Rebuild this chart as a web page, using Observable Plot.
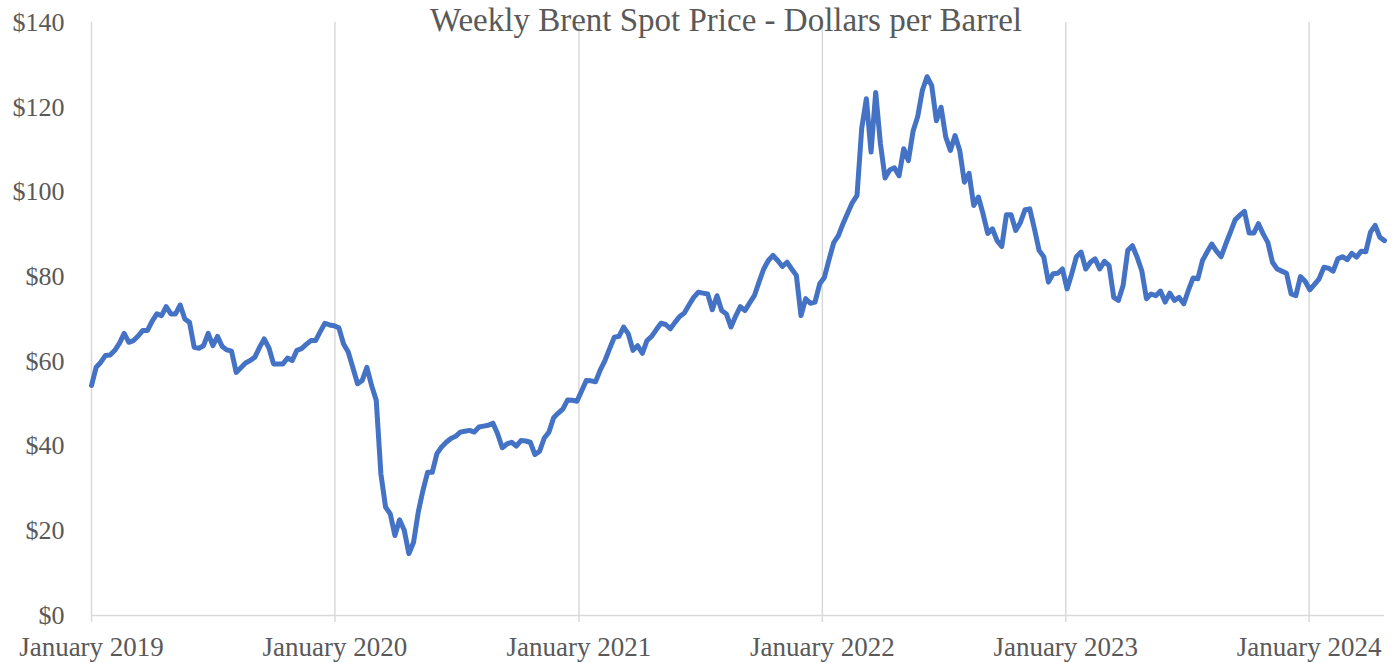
<!DOCTYPE html>
<html><head><meta charset="utf-8">
<script src="https://cdn.jsdelivr.net/npm/d3@7"></script>
<script src="https://cdn.jsdelivr.net/npm/@observablehq/plot@0.6"></script>
<style>html,body{margin:0;padding:0;background:#fff;} #chart{width:1396px;height:663px;}</style>
</head><body><div id="chart"></div>
<script>
const title = "Weekly Brent Spot Price - Dollars per Barrel";

// Week-ending dates (Fridays), as month-day per year
const weeks2019 = ["01-04","01-11","01-18","01-25","02-01","02-08","02-15","02-22","03-01","03-08","03-15","03-22","03-29","04-05","04-12","04-19","04-26","05-03","05-10","05-17","05-24","05-31","06-07","06-14","06-21","06-28","07-05","07-12","07-19","07-26","08-02","08-09","08-16","08-23","08-30","09-06","09-13","09-20","09-27","10-04","10-11","10-18","10-25","11-01","11-08","11-15","11-22","11-29","12-06","12-13","12-20","12-27"];
const weeks2020 = ["01-03","01-10","01-17","01-24","01-31","02-07","02-14","02-21","02-28","03-06","03-13","03-20","03-27","04-03","04-10","04-17","04-24","05-01","05-08","05-15","05-22","05-29","06-05","06-12","06-19","06-26","07-03","07-10","07-17","07-24","07-31","08-07","08-14","08-21","08-28","09-04","09-11","09-18","09-25","10-02","10-09","10-16","10-23","10-30","11-06","11-13","11-20","11-27","12-04","12-11","12-18","12-25"];
const weeks2021 = ["01-01","01-08","01-15","01-22","01-29","02-05","02-12","02-19","02-26","03-05","03-12","03-19","03-26","04-02","04-09","04-16","04-23","04-30","05-07","05-14","05-21","05-28","06-04","06-11","06-18","06-25","07-02","07-09","07-16","07-23","07-30","08-06","08-13","08-20","08-27","09-03","09-10","09-17","09-24","10-01","10-08","10-15","10-22","10-29","11-05","11-12","11-19","11-26","12-03","12-10","12-17","12-24","12-31"];
const weeks2022 = ["01-07","01-14","01-21","01-28","02-04","02-11","02-18","02-25","03-04","03-11","03-18","03-25","04-01","04-08","04-15","04-22","04-29","05-06","05-13","05-20","05-27","06-03","06-10","06-17","06-24","07-01","07-08","07-15","07-22","07-29","08-05","08-12","08-19","08-26","09-02","09-09","09-16","09-23","09-30","10-07","10-14","10-21","10-28","11-04","11-11","11-18","11-25","12-02","12-09","12-16","12-23","12-30"];
const weeks2023 = ["01-06","01-13","01-20","01-27","02-03","02-10","02-17","02-24","03-03","03-10","03-17","03-24","03-31","04-07","04-14","04-21","04-28","05-05","05-12","05-19","05-26","06-02","06-09","06-16","06-23","06-30","07-07","07-14","07-21","07-28","08-04","08-11","08-18","08-25","09-01","09-08","09-15","09-22","09-29","10-06","10-13","10-20","10-27","11-03","11-10","11-17","11-24","12-01","12-08","12-15","12-22","12-29"];
const weeks2024 = ["01-05","01-12","01-19","01-26","02-02","02-09","02-16","02-23","03-01","03-08","03-15","03-22","03-29","04-05","04-12","04-19","04-26"];

// Weekly Brent spot price, dollars per barrel
const prices2019 = [54.3,58.6,59.8,61.4,61.5,62.6,64.3,66.6,64.5,64.9,66.0,67.3,67.3,69.5,71.2,70.8,72.9,71.2,71.2,73.3,70.0,69.2,63.3,63.1,63.7,66.6,63.7,65.9,63.5,62.7,62.4,57.4,58.5,59.6,60.2,61.0,63.3,65.3,63.2,59.4,59.4,59.4,60.8,60.2,62.6,63.0,64.0,64.9,64.9,67.0,69.0,68.6];
const prices2020 = [68.4,67.9,64.1,62.2,58.5,54.7,55.5,58.6,54.3,50.8,33.4,25.6,24.0,18.9,22.6,20.1,14.6,17.3,24.4,29.5,33.8,33.8,38.2,39.8,40.9,41.8,42.3,43.3,43.5,43.7,43.3,44.5,44.7,44.9,45.4,42.9,39.6,40.5,40.9,40.0,41.3,41.2,40.9,38.0,38.8,41.9,43.3,46.7,47.8,48.8,50.9,50.8];
const prices2021 = [50.6,53.0,55.5,55.4,55.2,58.0,60.2,63.0,65.7,65.9,68.1,66.5,62.6,63.7,61.9,64.9,65.9,67.5,69.0,68.7,67.7,69.2,70.6,71.4,73.3,75.1,76.3,76.1,75.9,72.2,75.5,72.0,71.2,68.1,70.7,72.9,72.0,73.8,75.5,78.7,81.8,83.8,85.0,83.8,82.4,83.4,81.8,80.3,70.8,74.8,73.7,74.0,78.3];
const prices2022 = [79.8,84.0,88.0,89.7,92.5,95.0,97.5,99.2,115.0,122.0,109.4,123.5,111.5,103.3,105.2,105.7,103.8,110.2,107.4,114.3,117.8,124.0,127.2,125.1,116.8,120.0,113.0,109.8,113.3,109.8,102.3,104.4,96.8,98.8,94.8,90.2,91.3,88.5,87.1,94.6,94.6,90.9,92.8,95.8,96.0,91.3,86.2,84.7,78.7,80.7,80.8,81.8];
const prices2023 = [77.1,80.7,84.7,85.8,81.8,83.4,84.2,81.8,83.6,82.6,75.1,74.4,77.9,86.2,87.3,84.6,81.4,74.8,75.9,75.5,76.6,74.0,76.1,74.4,75.1,73.6,76.8,79.7,79.5,83.8,85.8,87.7,86.0,84.7,87.7,90.5,93.4,94.5,95.4,90.3,90.3,92.5,90.1,88.1,83.4,81.8,81.3,80.8,75.9,75.5,80.0,78.9];
const prices2024 = [76.9,78.2,79.5,82.2,82.0,81.3,84.2,84.7,84.0,85.5,84.6,86.0,85.9,90.5,92.1,89.3,88.5];

const yearTickDates = ["2019-01-04","2020-01-04","2021-01-04","2022-01-04","2023-01-04","2024-01-04"];
const yTicks = [0,20,40,60,80,100,120,140];

const years = [
  [2019, weeks2019, prices2019],
  [2020, weeks2020, prices2020],
  [2021, weeks2021, prices2021],
  [2022, weeks2022, prices2022],
  [2023, weeks2023, prices2023],
  [2024, weeks2024, prices2024]
];
const data = years.flatMap(([yr, wks, vals]) => wks.map((md, i) => ({date: new Date(`${yr}-${md}T00:00:00Z`), price: vals[i]})));
const yearTicks = yearTickDates.map(s => new Date(s + "T00:00:00Z"));

const chart = Plot.plot({
  width: 1396,
  height: 663,
  marginLeft: 91,
  marginRight: 12,
  marginTop: 22,
  marginBottom: 48,
  style: {fontFamily: "'Liberation Serif', 'DejaVu Serif', serif", background: "#fff", overflow: "visible", color: "#595959"},
  x: {type: "utc", domain: [new Date("2019-01-04T00:00:00Z"), new Date("2024-04-26T00:00:00Z")], label: null},
  y: {domain: [0, 140], label: null},
  marks: [
    Plot.gridX(yearTicks, {stroke: "#d9d9d9", strokeOpacity: 1, strokeWidth: 1.5}),
    Plot.ruleY([0], {stroke: "#d9d9d9", strokeWidth: 1.5}),
    Plot.axisX(yearTicks, {tickSize: 7, stroke: "#d9d9d9", strokeWidth: 1.5, fill: "#595959", tickPadding: 14, fontSize: 27, tickFormat: d3.utcFormat("%B %Y"), label: null}),
    Plot.axisY(yTicks, {tickSize: 0, tickPadding: 27, fill: "#595959", fontSize: 26, tickFormat: d => "$" + d, label: null}),
    Plot.line(data, {x: "date", y: "price", stroke: "#4472c4", strokeWidth: 5, strokeLinejoin: "round", strokeLinecap: "round"}),
    Plot.text([title], {frameAnchor: "top", dx: -12, dy: 8, lineAnchor: "bottom", fontSize: 33, fill: "#595959", text: d => d})
  ]
});
document.getElementById("chart").appendChild(chart);
</script>
</body></html>
